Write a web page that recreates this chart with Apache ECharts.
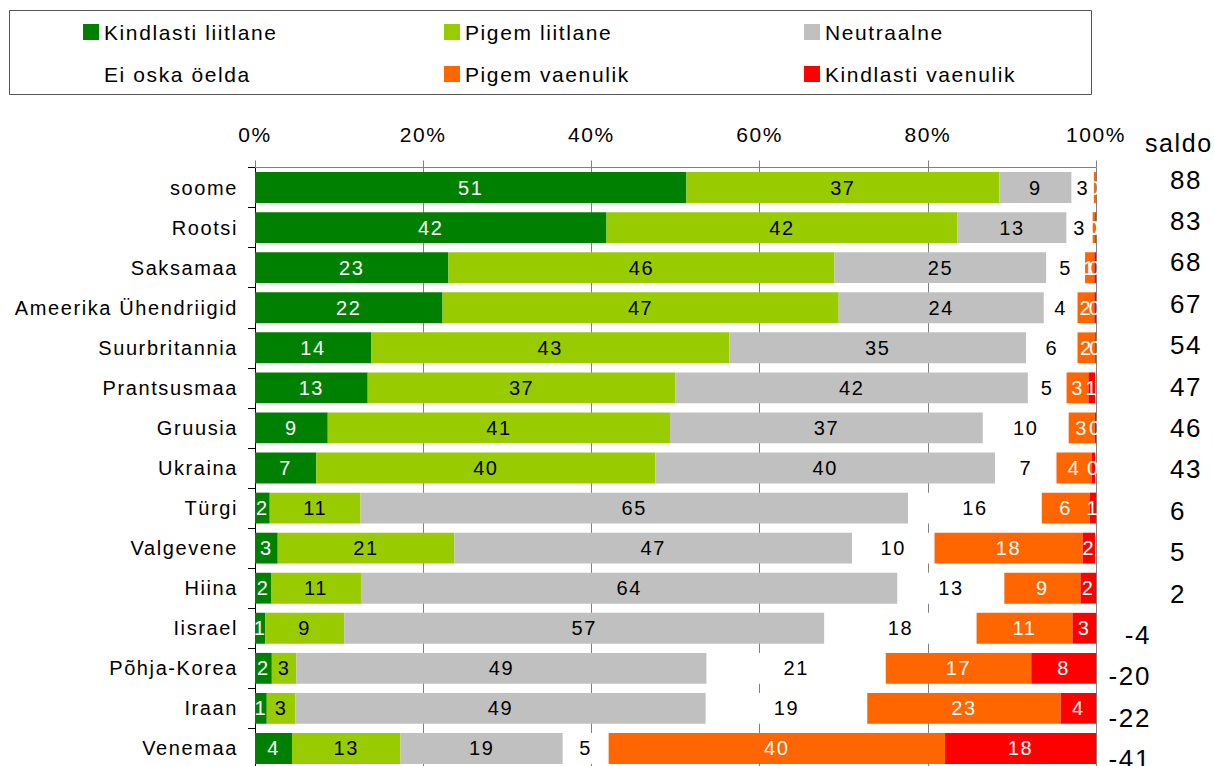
<!DOCTYPE html>
<html>
<head>
<meta charset="utf-8">
<script src="https://cdn.jsdelivr.net/npm/echarts@6/dist/echarts.min.js"></script>
<style>
  html, body { margin: 0; padding: 0; background: #fff; }
  #chart { width: 1214px; height: 766px; }
  /* the original text is set a bit loose */
  #chart text { letter-spacing: 1.6px; }
</style>
</head>
<body>
<div id="chart"></div>
<script>
// riigid ülevalt alla
const categories = ['soome', 'Rootsi', 'Saksamaa', 'Ameerika Ühendriigid', 'Suurbritannia', 'Prantsusmaa',
  'Gruusia', 'Ukraina', 'Türgi', 'Valgevene', 'Hiina', 'Iisrael', 'Põhja-Korea', 'Iraan', 'Venemaa'];

// protsendid (loetud pildilt)
const kindlastiLiitlane = [51.3, 41.8, 23.0, 22.3, 13.8, 13.4, 8.65, 7.3, 1.75, 2.7, 1.9, 1.2, 2.0, 1.4, 4.4];
const pigemLiitlane = [37.2, 41.7, 45.9, 47.1, 42.6, 36.6, 40.7, 40.3, 10.8, 21.0, 10.7, 9.4, 2.9, 3.4, 12.9];
const neutraalne = [8.6, 13.0, 25.2, 24.4, 35.3, 41.9, 37.2, 40.4, 65.1, 47.3, 63.8, 57.1, 48.8, 48.8, 19.3];
const eiOskaOelda = [2.65, 3.1, 4.6, 4.0, 6.1, 4.6, 10.2, 7.3, 15.9, 9.8, 12.7, 18.1, 21.3, 19.2, 5.45];
const pigemVaenulik = [0.25, 0.3, 1.1, 2.0, 2.1, 2.6, 3.1, 4.2, 5.7, 17.6, 9.05, 11.4, 17.3, 23.0, 40.0];
const kindlastiVaenulik = [0, 0.1, 0.2, 0.2, 0.1, 0.8, 0.15, 0.4, 0.8, 1.5, 1.9, 2.8, 7.8, 4.2, 18.0];

const saldo = [88, 83, 68, 67, 54, 47, 46, 43, 6, 5, 2, -4, -20, -22, -41];
const xTicks = [0, 20, 40, 60, 80, 100];

const FONT = 'Liberation Sans, Arial, sans-serif';

const myChart = echarts.init(document.getElementById('chart'), null, { renderer: 'svg' });

function barSeries(name, data, color, labelColor) {
  return {
    name: name,
    type: 'bar',
    stack: 'kokku',
    data: data,
    barCategoryGap: '23%',
    itemStyle: { color: color },
    emphasis: { disabled: true },
    label: {
      show: true,
      position: 'inside',
      color: labelColor,
      fontFamily: FONT,
      fontSize: 20,
      formatter: function (p) {
        return p.value > 0 ? String(Math.round(p.value)) : '';
      }
    }
  };
}

const legendBase = {
  orient: 'vertical',
  top: 20,
  padding: 0,
  icon: 'rect',
  itemWidth: 16,
  itemHeight: 16,
  itemGap: 18,
  selectedMode: false,
  textStyle: { fontFamily: FONT, fontSize: 21, color: '#000', lineHeight: 24 }
};

var option = {
  animation: false,
  textStyle: { fontFamily: FONT },
  title: {
    text: 'saldo',
    left: 1145,
    top: 130,
    padding: 0,
    textStyle: { fontFamily: FONT, fontSize: 25, fontWeight: 'normal', color: '#000' }
  },
  graphic: [
    {
      type: 'rect',
      shape: { x: 9.5, y: 10.5, width: 1082, height: 84 },
      style: { fill: 'none', stroke: '#555', lineWidth: 1 },
      silent: true
    }
  ],
  legend: [
    Object.assign({}, legendBase, { left: 83, data: ['Kindlasti liitlane', 'Ei oska öelda'] }),
    Object.assign({}, legendBase, { left: 444, data: ['Pigem liitlane', 'Pigem vaenulik'] }),
    Object.assign({}, legendBase, { left: 804, data: ['Neutraalne', 'Kindlasti vaenulik'] })
  ],
  grid: [
    { left: 255, top: 167.5, width: 841, height: 601, outerBoundsMode: 'none' },
    { left: 1060, top: 158.8, width: 50, height: 621, outerBoundsMode: 'none' }
  ],
  xAxis: [
    {
      gridIndex: 0,
      type: 'value',
      position: 'top',
      min: xTicks[0],
      max: xTicks[xTicks.length - 1],
      interval: 20,
      axisLine: { show: true, lineStyle: { color: '#808080', width: 1 } },
      axisTick: { show: true, length: 7, lineStyle: { color: '#808080' } },
      axisLabel: {
        margin: 23,
        color: '#000',
        fontFamily: FONT,
        fontSize: 21,
        formatter: '{value}%'
      },
      splitLine: { show: true, lineStyle: { color: '#808080', width: 1 } }
    },
    { gridIndex: 1, type: 'value', show: false }
  ],
  yAxis: [
    {
      gridIndex: 0,
      type: 'category',
      data: categories,
      inverse: true,
      axisLine: { show: true, lineStyle: { color: '#000', width: 1 } },
      axisTick: { show: true, length: 7, lineStyle: { color: '#000' } },
      axisLabel: {
        margin: 17,
        interval: 0,
        color: '#000',
        fontFamily: FONT,
        fontSize: 20
      }
    },
    {
      gridIndex: 1,
      type: 'category',
      position: 'right',
      inverse: true,
      data: saldo.map(String),
      axisLine: { show: false },
      axisTick: { show: false },
      splitLine: { show: false },
      axisLabel: {
        margin: 0,
        interval: 0,
        color: '#000',
        fontFamily: FONT,
        fontSize: 26,
        formatter: function (v, i) {
          return saldo[i] >= 0 ? '{p|' + v + '}' : '{n|' + v + '}';
        },
        rich: {
          p: { fontFamily: FONT, fontSize: 26, color: '#000', padding: [0, 0, 0, 60] },
          n: { fontFamily: FONT, fontSize: 26, color: '#000', width: 41, align: 'right' }
        }
      }
    }
  ],
  series: [
    barSeries('Kindlasti liitlane', kindlastiLiitlane, '#008000', '#fff'),
    barSeries('Pigem liitlane', pigemLiitlane, '#99CC00', '#000'),
    barSeries('Neutraalne', neutraalne, '#C0C0C0', '#000'),
    barSeries('Ei oska öelda', eiOskaOelda, '#FFFFFF', '#000'),
    barSeries('Pigem vaenulik', pigemVaenulik, '#FF6600', '#fff'),
    barSeries('Kindlasti vaenulik', kindlastiVaenulik, '#FF0000', '#fff')
  ]
};

myChart.setOption(option);
</script>
</body>
</html>
